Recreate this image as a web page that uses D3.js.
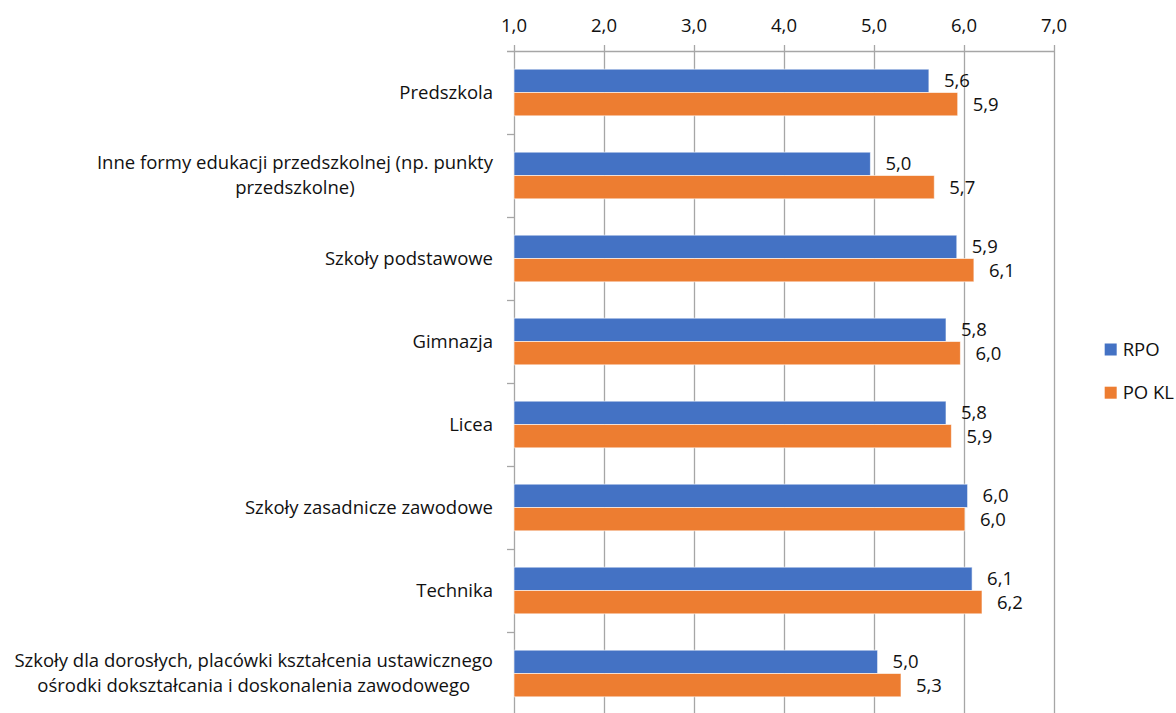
<!DOCTYPE html>
<html>
<head>
<meta charset="utf-8">
<script src="https://cdn.jsdelivr.net/npm/d3@7"></script>
<style>
  html, body { margin: 0; padding: 0; background: #fff; }
  svg { display: block; font-family: "Open Sans", Lato, sans-serif; }
</style>
</head>
<body>
<svg id="chart" width="1176" height="713"></svg>
<script>
(function(){
  'use strict';

  // categories (top to bottom), "\n" marks a line break in the label
  var categories = [
    'Predszkola',
    'Inne formy edukacji przedszkolnej (np. punkty\nprzedszkolne)',
    'Szkoły podstawowe',
    'Gimnazja',
    'Licea',
    'Szkoły zasadnicze zawodowe',
    'Technika',
    'Szkoły dla dorosłych, placówki kształcenia ustawicznego\nośrodki dokształcania i doskonalenia zawodowego'
  ];

  var seriesNames = ['RPO', 'PO KL'];
  var rpoValues  = [5.61, 4.96, 5.92, 5.80, 5.80, 6.04, 6.09, 5.04];
  var poklValues = [5.93, 5.67, 6.11, 5.96, 5.86, 6.01, 6.20, 5.30];
  var xTicks = [1, 2, 3, 4, 5, 6, 7];

  var colors = ['#4472C4', '#ED7D31'];
  var gridColor = '#a6a6a6';
  var textColor = '#111111';
  var fontSize = 18.5;

  var svg = d3.select('#chart');

  //Plot area
  var left = 514, right = 1054, top = 51, bottom = 715;

  var x = d3.scaleLinear().domain([1, 7]).range([left, right]);
  var y = d3.scaleBand().domain(d3.range(categories.length)).range([top, bottom]).padding(0);
  var barH = y.bandwidth() * 0.281;

  var fmt = function(v){ return d3.format('.1f')(v).replace('.', ','); };

  //Vertical grid lines (with outer ticks on top)
  svg.append('g')
    .selectAll('line')
    .data(xTicks)
    .enter().append('line')
    .attr('x1', function(d){ return x(d) + 0.5; })
    .attr('x2', function(d){ return x(d) + 0.5; })
    .attr('y1', top - 6)
    .attr('y2', bottom)
    .attr('stroke', gridColor)
    .attr('stroke-width', 1.3);

  //Top axis line
  svg.append('line')
    .attr('x1', left - 7).attr('x2', right + 0.5)
    .attr('y1', top + 0.5).attr('y2', top + 0.5)
    .attr('stroke', gridColor).attr('stroke-width', 1.3);

  //Category ticks on the left
  svg.append('g')
    .selectAll('line')
    .data(d3.range(1, categories.length + 1))
    .enter().append('line')
    .attr('x1', left - 7).attr('x2', left)
    .attr('y1', function(i){ return top + i * y.bandwidth() + 0.5; })
    .attr('y2', function(i){ return top + i * y.bandwidth() + 0.5; })
    .attr('stroke', gridColor).attr('stroke-width', 1.3);

  //Top tick labels
  svg.append('g')
    .selectAll('text')
    .data(xTicks)
    .enter().append('text')
    .attr('x', function(d){ return x(d); })
    .attr('y', 26)
    .attr('dy', '0.35em')
    .attr('text-anchor', 'middle')
    .attr('font-size', fontSize)
    .attr('fill', textColor)
    .text(function(d){ return fmt(d); });

  //Bars and value labels
  var series = [rpoValues, poklValues];
  series.forEach(function(vals, s){
    var g = svg.append('g');

    g.selectAll('rect')
      .data(vals)
      .enter().append('rect')
      .attr('x', x(1))
      .attr('y', function(d, i){ return y(i) + y.bandwidth() / 2 - barH + s * barH; })
      .attr('width', function(d){ return x(d) - x(1); })
      .attr('height', barH)
      .attr('fill', colors[s])
      .attr('stroke', '#ffffff')
      .attr('stroke-opacity', 0.6)
      .attr('stroke-width', 1);

    g.selectAll('text')
      .data(vals)
      .enter().append('text')
      .attr('x', function(d){ return x(d) + 15; })
      .attr('y', function(d, i){ return y(i) + y.bandwidth() / 2 - barH / 2 + s * barH; })
      .attr('dy', '0.35em')
      .attr('font-size', fontSize)
      .attr('fill', textColor)
      .text(function(d){ return fmt(d); });
  });

  //Category labels, lines centred on each other, block right aligned
  var labelRight = 493, lineH = 25;
  categories.forEach(function(c, i){
    var lines = c.split('\n');
    var t = svg.append('text')
      .attr('font-size', fontSize)
      .attr('fill', textColor)
      .attr('text-anchor', 'middle');
    var cy = y(i) + y.bandwidth() / 2 - (lines.length - 1) * lineH / 2;
    lines.forEach(function(l, k){
      t.append('tspan')
        .attr('y', cy + k * lineH)
        .attr('dy', '0.35em')
        .text(l);
    });
    var w = 0;
    t.selectAll('tspan').each(function(){ w = Math.max(w, this.getComputedTextLength()); });
    t.selectAll('tspan').attr('x', labelRight - w / 2);
  });

  //Legend
  var legend = svg.append('g');
  var items = legend.selectAll('g')
    .data(seriesNames)
    .enter().append('g')
    .attr('transform', function(d, i){ return 'translate(0,' + (343.5 + i * 43.2) + ')'; });

  items.append('rect')
    .attr('width', 12).attr('height', 12)
    .attr('fill', function(d, i){ return colors[i]; });

  items.append('text')
    .attr('x', 18).attr('y', 6)
    .attr('dy', '0.35em')
    .attr('font-size', fontSize)
    .attr('fill', textColor)
    .text(function(d){ return d; });

  //keep the legend inside the picture
  var lw = 0;
  items.selectAll('text').each(function(){ lw = Math.max(lw, this.getComputedTextLength()); });
  legend.attr('transform', 'translate(' + Math.min(1109, 1174 - 18 - lw) + ',0)');
})();
</script>
</body>
</html>
